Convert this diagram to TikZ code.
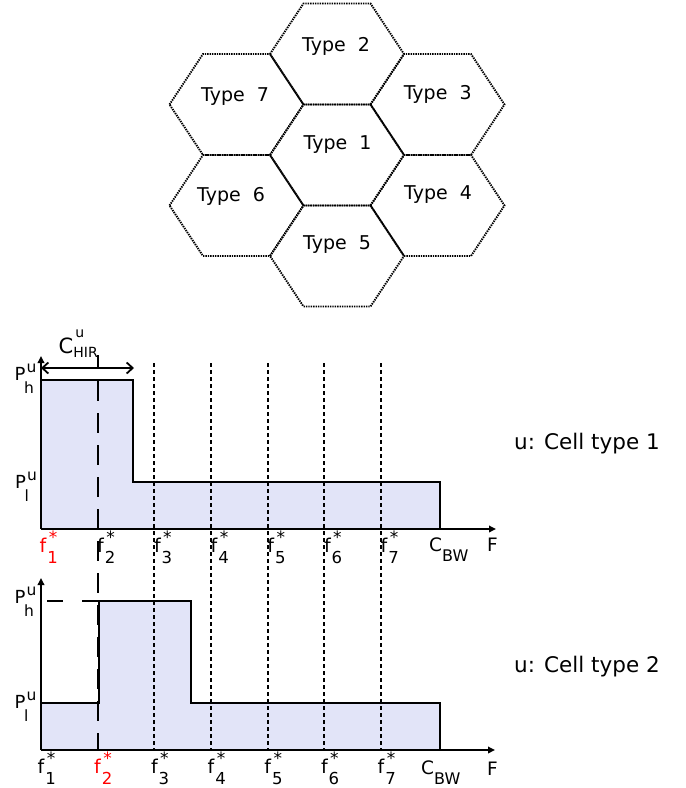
\documentclass[tikz,border=0pt]{standalone}
\usepackage{fontspec}
\setmainfont{DejaVu Sans}
\usetikzlibrary{arrows.meta}
\definecolor{fillc}{RGB}{226,228,248}
\definecolor{redc}{RGB}{255,0,0}
\newcommand{\fs}[1]{\fontsize{#1}{#1}\selectfont}
\newcommand{\flab}[1]{{\fs{19}f}\kern1pt\rlap{\kern1.5pt\raisebox{9pt}{\fs{17}*}}\raisebox{-11.5pt}{\fs{16.5}#1}}
\newcommand{\plab}[1]{{\fs{18}P}\rlap{\kern1pt\raisebox{7.5pt}{\fs{15.5}u}}\kern-1.5pt\raisebox{-13.5pt}{\fs{15.5}#1}}
\newcommand{\cbw}{{\fs{18.5}C}\raisebox{-10.5pt}{\fs{16}BW}}
\newcommand{\hexat}[1]{\draw[hexline, shift={#1}] (-67,0) -- (-33.5,-50.5) -- (33.5,-50.5) -- (67,0) -- (33.5,50.5) -- (-33.5,50.5) -- cycle;}
\begin{document}
\begin{tikzpicture}[x=1pt,y=-1pt,
  hexline/.style={line width=1.9pt, dash pattern=on 1.4pt off 1.0pt},
  sig/.style={line width=2.3pt, line join=miter},
  axis/.style={line width=2.2pt, -{Triangle[length=7pt,width=6.5pt]}},
  fdash/.style={line width=2pt, dash pattern=on 4pt off 3pt},
  ldash/.style={line width=2pt, dash pattern=on 20pt off 12pt, dash phase=6pt},
  typetxt/.style={inner sep=0pt, font=\fs{19}},
  lab/.style={inner sep=0pt, anchor=base west},
  celltxt/.style={inner sep=0pt, anchor=base west, font=\fs{21.5}}]
\useasboundingbox (0,0) rectangle (686,788);

% ---------- hexagons ----------
\hexat{(337,155)}
\hexat{(337,54)}
\hexat{(337,256)}
\hexat{(437.5,104.5)}
\hexat{(437.5,205.5)}
\hexat{(236.5,104.5)}
\hexat{(236.5,205.5)}
\node[typetxt] (t1) at (337.5,145) {Type~~1};
\node[typetxt] (t2) at (336,46) {Type~~2};
\node[typetxt] (t3) at (437.7,94.3) {Type~~3};
\node[typetxt] (t4) at (438,195) {Type~~4};
\node[typetxt] (t5) at (337,245) {Type~~5};
\node[typetxt] (t6) at (231,196.7) {Type~~6};
\node[typetxt] (t7) at (235,96.3) {Type~~7};

% ---------- coordinates ----------
\coordinate (uo) at (41,529);
\coordinate (uy) at (41,356);
\coordinate (ux) at (496,529);
\coordinate (lo) at (41,750);
\coordinate (ly) at (41,578);
\coordinate (lx) at (495,750);

% ---------- fills ----------
\fill[fillc] (41,380) -- (133,380) -- (133,482) -- (440,482) -- (440,529) -- (41,529) -- cycle;
\fill[fillc] (41,703) -- (99,703) -- (99,601) -- (191,601) -- (191,703) -- (440,703) -- (440,750) -- (41,750) -- cycle;

% ---------- vertical frequency lines ----------
\foreach \xx/\nm in {154.3/3,211/4,267.7/5,324.3/6,381/7}{
  \coordinate (ft\nm) at (\xx,363);
  \coordinate (fb\nm) at (\xx,750);
  \draw[fdash] (ft\nm) -- (fb\nm);
}
\coordinate (ft2) at (97.5,355);
\coordinate (fb2) at (97.5,750);
\draw[ldash] (ft2) -- (fb2);

% ---------- signals ----------
\draw[sig] (41,380) -- (133,380) -- (133,482) -- (440,482) -- (440,529);
\draw[sig] (41,703) -- (99,703) -- (99,601) -- (191,601) -- (191,703) -- (440,703) -- (440,750);
\coordinate (phs) at (47,601);
\coordinate (phe) at (99,601);
\draw[line width=2pt, dash pattern=on 16pt off 19pt] (phs) -- (phe);

% ---------- axes ----------
\draw[axis] (uo) -- (uy);
\draw[axis] (uo) -- (ux);
\draw[axis] (lo) -- (ly);
\draw[axis] (lo) -- (lx);

% ---------- C_HIR arrow ----------
\coordinate (ca) at (41,368);
\coordinate (cb) at (134,368);
\draw[line width=1.8pt, {Straight Barb[length=6pt,width=11pt]}-{Straight Barb[length=6pt,width=11pt]}] (ca) -- (cb);
\node[lab] (chir) at (58.5,353) {{\fs{21}C}\rlap{\kern2pt\raisebox{16pt}{\fs{14}u}}\raisebox{-4pt}{\fs{14}HIR}};

% ---------- y labels ----------
\node[lab] (ph1) at (14.5,380) {\plab{h}};
\node[lab] (pl1) at (15,488) {\plab{l}};
\node[lab] (ph2) at (14.5,603) {\plab{h}};
\node[lab] (pl2) at (14.5,708) {\plab{l}};

% ---------- x labels upper ----------
\node[lab, text=redc] (uf1) at (39.5,552) {\flab{1}};
\node[lab] (uf2) at (97,552) {\flab{2}};
\node[lab] (uf3) at (153.8,552) {\flab{3}};
\node[lab] (uf4) at (210.5,552) {\flab{4}};
\node[lab] (uf5) at (267.2,552) {\flab{5}};
\node[lab] (uf6) at (323.8,552) {\flab{6}};
\node[lab] (uf7) at (380.5,552) {\flab{7}};
\node[lab] (ucbw) at (429,551) {\cbw};
\node[lab, font=\fs{18.5}] (uF) at (487,551) {F};

% ---------- x labels lower ----------
\node[lab] (lf1) at (37.5,773) {\flab{1}};
\node[lab, text=redc] (lf2) at (94,773) {\flab{2}};
\node[lab] (lf3) at (150.8,773) {\flab{3}};
\node[lab] (lf4) at (207.5,773) {\flab{4}};
\node[lab] (lf5) at (264.2,773) {\flab{5}};
\node[lab] (lf6) at (320.8,773) {\flab{6}};
\node[lab] (lf7) at (377.5,773) {\flab{7}};
\node[lab] (lcbw) at (421,774) {\cbw};
\node[lab, font=\fs{18.5}] (lF) at (487,775) {F};

% ---------- cell type labels ----------
\node[celltxt] (ct1) at (514,449) {u: Cell type 1};
\node[celltxt] (ct2) at (514,672) {u: Cell type 2};
\end{tikzpicture}
\end{document}
